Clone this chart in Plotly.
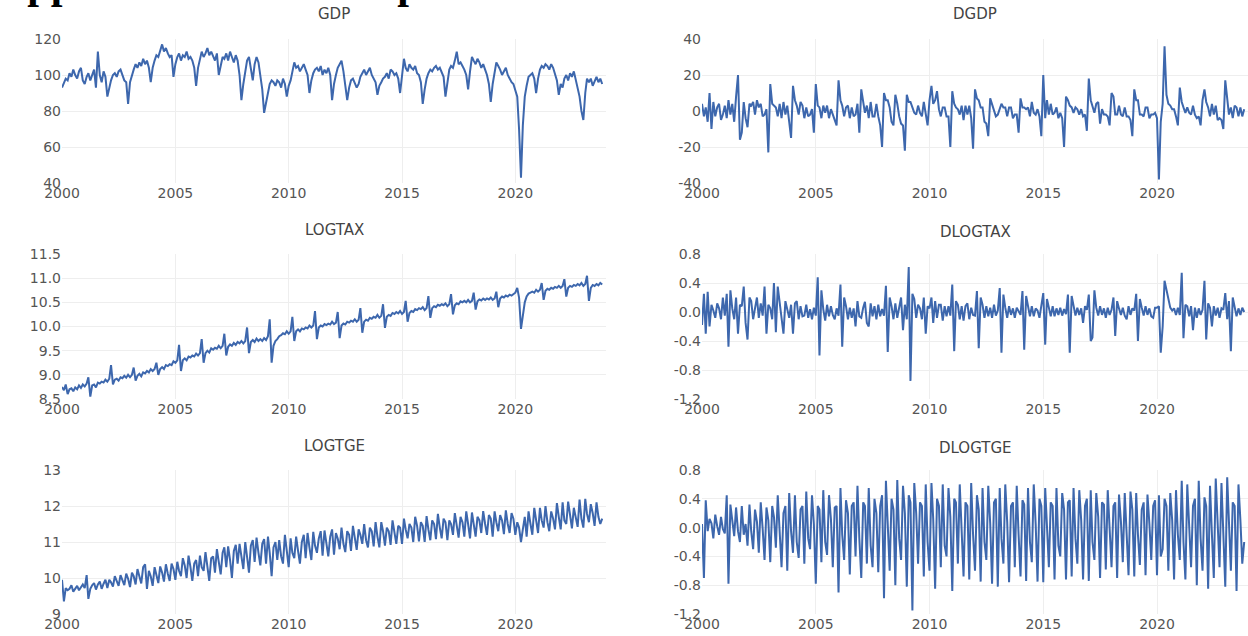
import pandas as pd
import plotly.graph_objects as go

# ---------------- data (monthly, Jan 2000 - Nov 2023) ----------------
GDP = [
    93, 96, 98, 97, 101, 99, 103, 100, 98, 102, 104, 97,
    95, 99, 101, 97, 100, 103, 93, 113, 100, 96, 102, 99,
    88, 93, 97, 100, 101, 99, 102, 103, 100, 97, 96, 84,
    96, 100, 103, 106, 104, 107, 105, 109, 106, 108, 104, 96,
    104, 108, 111, 110, 114, 117, 113, 115, 112, 110, 111, 99,
    106, 110, 112, 108, 111, 110, 113, 109, 110, 108, 104, 94,
    104, 109, 113, 110, 112, 115, 111, 113, 110, 108, 112, 100,
    105, 110, 109, 112, 108, 113, 110, 107, 111, 108, 100, 86,
    95, 102, 108, 110, 104, 97, 106, 110, 107, 100, 92, 79,
    85, 90, 95, 97, 96, 94, 97, 96, 93, 98, 95, 88,
    94, 97, 101, 107, 104, 105, 102, 104, 106, 103, 100, 90,
    97, 101, 103, 104, 102, 105, 100, 103, 101, 104, 100, 86,
    95, 100, 104, 106, 108, 102, 95, 86, 93, 97, 98, 95,
    93, 95, 99, 101, 103, 100, 102, 104, 100, 98, 96, 89,
    94, 96, 98, 99, 101, 98, 103, 102, 100, 101, 98, 90,
    99, 109, 104, 102, 106, 104, 103, 105, 101, 100, 96, 84,
    92, 98, 101, 103, 102, 104, 105, 103, 104, 101, 99, 88,
    97, 103, 105, 104, 108, 113, 106, 107, 105, 103, 100, 92,
    102, 110, 108, 106, 109, 107, 104, 106, 103, 100, 95, 85,
    95, 101, 107, 105, 103, 100, 102, 104, 100, 98, 96, 95,
    92, 88, 70, 43, 72, 88, 94, 99, 100, 101, 98, 90,
    98, 103, 105, 104, 106, 105, 103, 106, 104, 100, 97, 89,
    95, 93, 98, 100, 97, 101, 99, 102, 97, 93, 88, 80,
    75, 90, 98, 96, 98, 94, 97, 99, 96, 98, 95,
]

DGDP = [
    4, -3, 2, -6, 10, -10, 5, -3, 2, 4, -5, -2,
    3, -4, 6, -2, 4, -6, 8, 20, -16, -12, 5, -4,
    -9, 4, 3, 5, -2, 6, 2, 4, -3, -2, 1, -23,
    15, 4, 3, 2, -3, 4, -4, 5, -2, 3, -6, -15,
    14, 6, 3, -2, 5, 3, -4, 2, -3, -2, 1, -12,
    15, 3, 2, -4, 3, -1, 3, -4, 1, -2, -4, -8,
    17, 6, 3, -3, 2, 3, -4, 2, -3, -2, 4, -12,
    12, 4, -1, 3, -4, 5, -3, -3, 4, -3, -8, -20,
    10, 6, 6, 2, -6, -8, 9, 4, -3, -7, -8, -22,
    9, 5, 5, 2, -1, -2, 3, -1, -3, 5, -3, -8,
    6, 14, 4, 6, 11, 1, -3, 2, 2, -3, -3, -20,
    11, 4, 2, 1, -2, 3, -5, 3, -2, 3, -4, -21,
    12, 7, 6, 2, 2, -6, -7, -14, 7, 4, 1, -3,
    -2, 2, 4, 2, 2, -3, 2, 2, -4, -2, -2, -12,
    7, 2, 2, 1, 2, -3, 5, -1, -2, 1, -3, -14,
    20, -4, 6, -2, 4, -2, -1, 2, -4, -1, -4, -20,
    8, 6, 3, 2, -1, 2, 1, -2, 1, -3, -2, -11,
    18, 6, 2, -1, 4, 5, -7, 1, -2, -2, -3, -8,
    10, 8, -2, -2, 3, -2, -3, 2, -3, -3, -5, -14,
    12, 6, 6, -2, -2, -3, 2, 2, -4, -2, -2, -1,
    -4, -38, -6, 4, 36, 9, 4, 3, 1, 1, -3, -8,
    13, 5, 2, -1, 2, -1, -2, 3, -2, -4, -3, -8,
    6, 12, 5, 2, -3, 4, -2, 3, -5, -4, -5, -10,
    17, 8, -2, 2, -4, 3, 2, -3, 2, -3, 1,
]

LOGTAX = [
    8.75, 8.68, 8.80, 8.60, 8.70, 8.72, 8.66, 8.74, 8.70, 8.78, 8.73, 8.80,
    8.76, 8.82, 8.95, 8.55, 8.78, 8.80, 8.74, 8.84, 8.82, 8.86, 8.84, 8.90,
    8.86, 8.92, 9.20, 8.80, 8.90, 8.92, 8.88, 8.95, 8.93, 8.98, 8.94, 9.00,
    8.95, 9.00, 9.15, 8.88, 8.98, 9.02, 8.97, 9.05, 9.03, 9.08, 9.05, 9.12,
    9.08, 9.12, 9.25, 9.00, 9.12, 9.16, 9.12, 9.20, 9.18, 9.22, 9.20, 9.28,
    9.25, 9.30, 9.62, 9.08, 9.30, 9.34, 9.30, 9.38, 9.36, 9.40, 9.38, 9.44,
    9.40, 9.45, 9.74, 9.25, 9.45, 9.50, 9.46, 9.55, 9.52, 9.56, 9.54, 9.60,
    9.55, 9.60, 9.85, 9.40, 9.58, 9.63, 9.60, 9.66, 9.62, 9.68, 9.65, 9.70,
    9.65, 9.70, 9.98, 9.45, 9.68, 9.72, 9.68, 9.75, 9.70, 9.74, 9.70, 9.76,
    9.72, 9.80, 10.15, 9.25, 9.60, 9.70, 9.74, 9.80, 9.82, 9.86, 9.84, 9.90,
    9.85, 9.90, 10.20, 9.70, 9.90, 9.94, 9.90, 9.96, 9.94, 9.98, 9.96, 10.02,
    9.98, 10.02, 10.32, 9.74, 9.98, 10.02, 10.00, 10.05, 10.03, 10.06, 10.04, 10.10,
    10.05, 10.08, 10.30, 9.76, 10.02, 10.06, 10.04, 10.10, 10.08, 10.12, 10.10, 10.15,
    10.10, 10.14, 10.38, 9.87, 10.10, 10.14, 10.12, 10.18, 10.16, 10.20, 10.18, 10.24,
    10.18, 10.22, 10.46, 9.97, 10.20, 10.24, 10.22, 10.28, 10.26, 10.30, 10.27, 10.32,
    10.26, 10.30, 10.53, 10.10, 10.28, 10.32, 10.30, 10.36, 10.34, 10.38, 10.36, 10.40,
    10.34, 10.38, 10.63, 10.18, 10.38, 10.42, 10.40, 10.45, 10.43, 10.46, 10.44, 10.48,
    10.42, 10.46, 10.67, 10.25, 10.44, 10.48, 10.46, 10.52, 10.50, 10.53, 10.50, 10.55,
    10.50, 10.53, 10.70, 10.35, 10.52, 10.56, 10.54, 10.58, 10.55, 10.58, 10.56, 10.60,
    10.55, 10.58, 10.72, 10.40, 10.58, 10.62, 10.60, 10.64, 10.62, 10.66, 10.64, 10.68,
    10.70, 10.80, 10.60, 9.95, 10.20, 10.50, 10.62, 10.68, 10.70, 10.72, 10.70, 10.76,
    10.72, 10.76, 10.90, 10.55, 10.74, 10.78, 10.76, 10.80, 10.78, 10.82, 10.80, 10.84,
    10.80, 10.84, 10.98, 10.62, 10.80, 10.84, 10.82, 10.86, 10.84, 10.88, 10.85, 10.90,
    10.84, 10.88, 11.05, 10.53, 10.80, 10.86, 10.84, 10.88, 10.85, 10.90, 10.87,
]

DLOGTAX = [
    -0.18, 0.25, -0.30, 0.28, -0.20, 0.10, 0.02, -0.08, 0.12, 0.05, -0.10, 0.20,
    -0.05, 0.25, -0.48, 0.30, 0.05, -0.10, 0.20, -0.30, 0.10, 0.08, 0.35, -0.15,
    -0.38, 0.20, 0.15, -0.10, 0.05, 0.20, -0.08, 0.12, -0.05, 0.35, -0.30, 0.10,
    0.05, -0.10, 0.40, -0.28, 0.35, 0.10, -0.05, -0.30, 0.15, 0.05, -0.08, 0.10,
    -0.30, 0.12, 0.15, -0.10, 0.08, -0.06, -0.05, 0.10, -0.08, 0.04, -0.10, 0.06,
    -0.05, 0.48, -0.60, 0.30, 0.04, -0.12, 0.10, -0.06, 0.08, -0.04, -0.10, 0.05,
    -0.05, 0.38, -0.48, 0.20, 0.08, -0.10, 0.06, -0.08, 0.05, -0.20, 0.15, -0.06,
    -0.08, 0.06, 0.14, -0.15, -0.20, 0.12, -0.06, 0.08, -0.10, 0.10, -0.06, 0.04,
    -0.05, 0.36, -0.55, 0.20, 0.08, -0.10, 0.12, -0.08, 0.06, 0.20, -0.25, 0.10,
    -0.10, 0.62, -0.95, 0.25, 0.18, -0.08, 0.10, 0.05, -0.10, 0.20, -0.30, 0.08,
    0.05, 0.20, -0.15, 0.15, -0.08, 0.10, 0.10, -0.12, 0.08, -0.06, 0.08, -0.05,
    0.38, -0.54, 0.15, 0.10, -0.10, 0.08, -0.12, 0.08, 0.12, -0.10, 0.06, -0.04,
    -0.05, 0.29, -0.50, 0.20, 0.10, -0.08, 0.08, -0.06, 0.06, -0.08, 0.10, -0.05,
    0.02, 0.33, -0.56, 0.24, 0.06, -0.08, 0.08, -0.04, 0.05, -0.08, 0.06, 0.02,
    -0.04, 0.29, -0.52, 0.22, 0.06, -0.06, 0.08, -0.06, 0.05, 0.02, -0.08, 0.06,
    0.26, -0.45, 0.18, 0.06, -0.06, 0.08, -0.06, 0.05, -0.04, 0.06, -0.05, 0.04,
    -0.03, 0.24, -0.56, 0.22, 0.08, -0.05, 0.06, -0.04, 0.05, -0.15, 0.08, 0.03,
    0.24, -0.40, -0.35, 0.30, 0.06, -0.05, 0.08, -0.04, 0.05, -0.08, 0.06, -0.04,
    0.03, 0.20, -0.33, 0.15, 0.05, -0.04, 0.06, -0.05, -0.10, 0.08, -0.04, 0.05,
    0.02, 0.25, -0.40, 0.18, 0.06, -0.05, 0.08, -0.04, 0.05, -0.06, -0.08, 0.06,
    0.06, 0.08, -0.56, -0.20, 0.43, 0.30, 0.18, 0.06, 0.02, 0.05, -0.04, 0.06,
    -0.04, 0.54, -0.36, 0.10, 0.08, -0.06, 0.08, -0.25, 0.06, -0.08, 0.05, -0.04,
    0.03, 0.43, -0.38, 0.12, 0.06, -0.20, 0.08, -0.05, 0.06, -0.08, 0.05, 0.03,
    0.26, -0.10, 0.15, -0.54, 0.20, 0.08, -0.06, 0.05, -0.04, 0.06, 0.00,
]

LOGTGE = [
    9.95, 9.35, 9.72, 9.66, 9.70, 9.80, 9.62, 9.72, 9.78, 9.66, 9.74, 9.82,
    9.72, 10.08, 9.42, 9.70, 9.80, 9.86, 9.68, 9.82, 9.90, 9.70, 9.84, 9.95,
    9.72, 9.95, 9.88, 9.76, 10.05, 9.90, 9.78, 10.08, 9.95, 9.80, 10.12, 9.98,
    9.75, 10.15, 10.05, 9.82, 10.25, 10.00, 9.85, 10.30, 10.38, 9.70, 10.20, 10.05,
    9.78, 10.30, 10.10, 9.86, 10.32, 10.15, 9.90, 10.38, 10.12, 9.92, 10.40, 10.25,
    9.95, 10.45, 10.20, 10.05, 10.55, 10.35, 10.00, 10.62, 10.30, 9.92, 10.40, 10.50,
    10.05, 10.62, 10.30, 10.20, 10.72, 10.35, 9.92, 10.55, 10.60, 10.15, 10.80, 10.45,
    10.10, 10.70, 10.85, 10.30, 10.88, 10.50, 10.00, 10.75, 10.92, 10.40, 10.95, 10.60,
    10.25, 11.00, 10.60, 10.15, 10.90, 11.05, 10.45, 11.12, 10.70, 10.35, 10.95, 11.08,
    10.40, 11.15, 10.70, 10.05, 10.85, 11.00, 10.50, 11.05, 10.60, 10.40, 11.20, 10.80,
    10.30, 11.10, 10.70, 10.55, 11.15, 10.75, 10.40, 11.00, 11.20, 10.55, 11.25, 10.85,
    10.50, 11.28, 10.90, 10.70, 11.10, 11.30, 10.62, 11.32, 10.95, 10.60, 11.15, 11.35,
    10.65, 11.25, 11.10, 10.80, 11.40, 10.95, 10.72, 11.30, 11.20, 10.75, 11.45, 11.05,
    10.78, 11.35, 11.20, 10.95, 11.50, 11.05, 10.85, 11.40, 11.30, 10.88, 11.55, 11.15,
    10.85, 11.55, 11.30, 10.90, 11.40, 11.30, 10.92, 11.60, 11.20, 10.95, 11.45, 11.40,
    10.95, 11.65, 11.35, 11.10, 11.50, 11.40, 11.00, 11.70, 11.45, 11.02, 11.55, 11.45,
    11.00, 11.72, 11.35, 11.05, 11.60, 11.50, 11.08, 11.78, 11.40, 11.10, 11.65, 11.55,
    11.05, 11.60, 11.50, 11.20, 11.80, 11.45, 11.12, 11.70, 11.55, 11.15, 11.85, 11.50,
    11.10, 11.82, 11.45, 11.15, 11.70, 11.60, 11.25, 11.86, 11.50, 11.20, 11.75, 11.65,
    11.15, 11.85, 11.55, 11.30, 11.75, 11.60, 11.22, 11.88, 11.50, 11.25, 11.80, 11.65,
    11.20, 11.55, 11.40, 11.00, 11.35, 11.70, 11.15, 11.85, 11.50, 11.20, 11.95, 11.55,
    11.25, 11.95, 11.60, 11.40, 12.00, 11.55, 11.30, 11.85, 11.65, 11.35, 12.08, 11.70,
    11.35, 12.10, 11.60, 11.50, 12.12, 11.75, 11.38, 11.95, 11.72, 11.42, 12.18, 11.65,
    11.40, 12.20, 11.78, 11.55, 12.05, 11.80, 11.45, 12.10, 11.70, 11.50, 11.65,
]

DLOGTGE = [
    0.05, -0.70, 0.38, -0.05, 0.12, 0.06, -0.15, 0.18, 0.02, -0.10, 0.15, -0.02,
    -0.08, 0.45, -0.78, 0.32, 0.10, -0.12, 0.28, -0.05, -0.20, 0.30, -0.10, 0.05,
    -0.25, 0.32, -0.05, -0.30, 0.25, 0.08, -0.35, 0.35, -0.02, -0.45, 0.28, 0.10,
    -0.48, 0.30, 0.15, -0.28, 0.45, -0.10, -0.55, 0.20, 0.30, -0.60, 0.48, -0.05,
    -0.35, 0.45, -0.20, -0.42, 0.25, 0.30, -0.50, 0.50, -0.15, -0.30, 0.45, 0.05,
    -0.78, 0.30, 0.25, -0.48, 0.52, -0.20, -0.38, 0.45, 0.12, -0.55, 0.28, 0.30,
    -0.90, 0.55, -0.10, -0.45, 0.38, 0.20, -0.65, 0.30, 0.35, -0.40, 0.58, -0.15,
    -0.70, 0.35, 0.30, -0.50, 0.55, -0.25, -0.55, 0.40, 0.20, -0.62, 0.30, 0.45,
    -0.98, 0.65, -0.05, -0.60, 0.40, 0.25, -0.80, 0.66, -0.15, -0.45, 0.58, 0.20,
    -0.82, 0.45, 0.35, -1.15, 0.62, 0.20, -0.50, 0.35, 0.30, -0.68, 0.60, -0.20,
    -0.60, 0.62, 0.12, -0.85, 0.40, 0.30, -0.55, 0.60, -0.25, -0.40, 0.55, 0.15,
    -0.88, 0.40, 0.35, -0.50, 0.60, -0.15, -0.68, 0.35, 0.30, -0.72, 0.62, -0.10,
    -0.60, 0.45, 0.25, -0.75, 0.55, -0.20, -0.45, 0.58, 0.06, -0.78, 0.35, 0.40,
    -0.82, 0.55, -0.15, -0.50, 0.60, 0.08, -0.76, 0.30, 0.35, -0.55, 0.58, -0.10,
    -0.68, 0.38, 0.32, -0.74, 0.55, -0.20, -0.48, 0.60, 0.05, -0.75, 0.40, 0.30,
    -0.76, 0.55, -0.10, -0.55, 0.35, 0.30, -0.72, 0.55, -0.25, -0.40, 0.48, 0.25,
    -0.72, 0.35, 0.38, -0.68, 0.55, -0.15, -0.50, 0.52, 0.10, -0.72, 0.30, 0.40,
    -0.74, 0.52, -0.20, -0.45, 0.48, 0.15, -0.70, 0.35, 0.32, -0.58, 0.52, -0.12,
    -0.55, 0.30, 0.35, -0.70, 0.46, 0.08, -0.48, 0.48, -0.20, -0.66, 0.50, 0.25,
    -0.68, 0.48, -0.10, -0.52, 0.25, 0.35, -0.66, 0.46, 0.05, -0.45, 0.30, 0.38,
    -0.66, 0.45, -0.40, -0.30, 0.40, 0.30, -0.60, 0.48, 0.10, -0.72, 0.52, -0.10,
    -0.45, 0.65, -0.20, -0.72, 0.60, 0.08, -0.55, 0.30, 0.40, -0.80, 0.65, -0.15,
    -0.60, 0.42, 0.30, -0.85, 0.58, -0.10, -0.70, 0.68, 0.10, -0.55, 0.62, -0.20,
    -0.82, 0.70, -0.05, -0.60, 0.35, 0.30, -0.88, 0.60, 0.10, -0.50, -0.20,
]

TITLES = ["GDP", "DGDP", "LOGTAX", "DLOGTAX", "LOGTGE", "DLOGTGE"]
X_TICK_YEARS = ["2000", "2005", "2010", "2015", "2020"]
Y_TICKS = {
    "GDP": ([40, 60, 80, 100, 120], ["40", "60", "80", "100", "120"]),
    "DGDP": ([-40, -20, 0, 20, 40], ["-40", "-20", "0", "20", "40"]),
    "LOGTAX": ([8.5, 9.0, 9.5, 10.0, 10.5, 11.0, 11.5],
               ["8.5", "9.0", "9.5", "10.0", "10.5", "11.0", "11.5"]),
    "DLOGTAX": ([-1.2, -0.8, -0.4, 0.0, 0.4, 0.8],
                ["-1.2", "-0.8", "-0.4", "0.0", "0.4", "0.8"]),
    "LOGTGE": ([9, 10, 11, 12, 13], ["9", "10", "11", "12", "13"]),
    "DLOGTGE": ([-1.2, -0.8, -0.4, 0.0, 0.4, 0.8],
                ["-1.2", "-0.8", "-0.4", "0.0", "0.4", "0.8"]),
}
DATA = {"GDP": GDP, "DGDP": DGDP, "LOGTAX": LOGTAX,
        "DLOGTAX": DLOGTAX, "LOGTGE": LOGTGE, "DLOGTGE": DLOGTGE}

# ---------------- layout geometry ----------------
W, H = 1248, 636
COL_DOM = [[62 / W, 606 / W], [702 / W, 1.0]]
ROW_PX = [(39, 183), (254, 399), (470, 614)]
ROW_DOM = [[1 - b / H, 1 - t / H] for t, b in ROW_PX]
TITLE_Y_PX = [14, 14, 230, 232, 446, 448]

LINE_COLOR = "#3d67ad"
FONT = "DejaVu Sans"
TICK_COLOR = "#555555"
GRID = "#eeeeee"

fig = go.Figure()
annotations = []
tickvals_x = [pd.Timestamp(f"{y}-01-01") for y in X_TICK_YEARS]

for i, name in enumerate(TITLES):
    r, c = divmod(i, 2)
    k = "" if i == 0 else str(i + 1)
    vals = DATA[name]
    dates = pd.date_range("2000-01-01", periods=len(vals), freq="MS")
    fig.add_trace(go.Scatter(x=dates, y=vals, mode="lines",
                             line=dict(color=LINE_COLOR, width=2),
                             xaxis="x" + k, yaxis="y" + k, showlegend=False))
    tv, tt = Y_TICKS[name]
    fig.update_layout({
        "xaxis" + k: dict(domain=COL_DOM[c], anchor="y" + k, type="date",
                          range=["2000-01-01", "2024-01-01"],
                          tickvals=tickvals_x, ticktext=X_TICK_YEARS,
                          showgrid=True, gridcolor=GRID, zeroline=False,
                          showline=False, ticks="", automargin=False,
                          tickfont=dict(family=FONT, size=14, color=TICK_COLOR)),
        "yaxis" + k: dict(domain=ROW_DOM[r], anchor="x" + k,
                          range=[tv[0], tv[-1]], tickvals=tv, ticktext=tt,
                          showgrid=True, gridcolor=GRID, zeroline=False,
                          showline=False, ticks="", automargin=False,
                          tickfont=dict(family=FONT, size=14, color=TICK_COLOR)),
    })
    annotations.append(dict(text=name, xref="paper", yref="paper",
                            x=sum(COL_DOM[c]) / 2, y=1 - TITLE_Y_PX[i] / H,
                            xanchor="center", yanchor="middle", showarrow=False,
                            font=dict(family=FONT, size=15, color="#444444")))

annotations.append(dict(text="<b>Appendix 1: Data Graphs</b>", xref="paper", yref="paper",
                        x=-5 / W, y=1 + 15.5 / H, xanchor="left", yanchor="middle",
                        showarrow=False,
                        font=dict(family="Liberation Serif", size=42, color="#000000")))

fig.update_layout(width=W, height=H, margin=dict(l=0, r=0, t=0, b=0, autoexpand=False),
                  paper_bgcolor="white", plot_bgcolor="white",
                  annotations=annotations, showlegend=False)

fig.write_html("out.html", config={"displayModeBar": False},
               post_script="document.body.style.margin='0';document.body.style.padding='0';")
